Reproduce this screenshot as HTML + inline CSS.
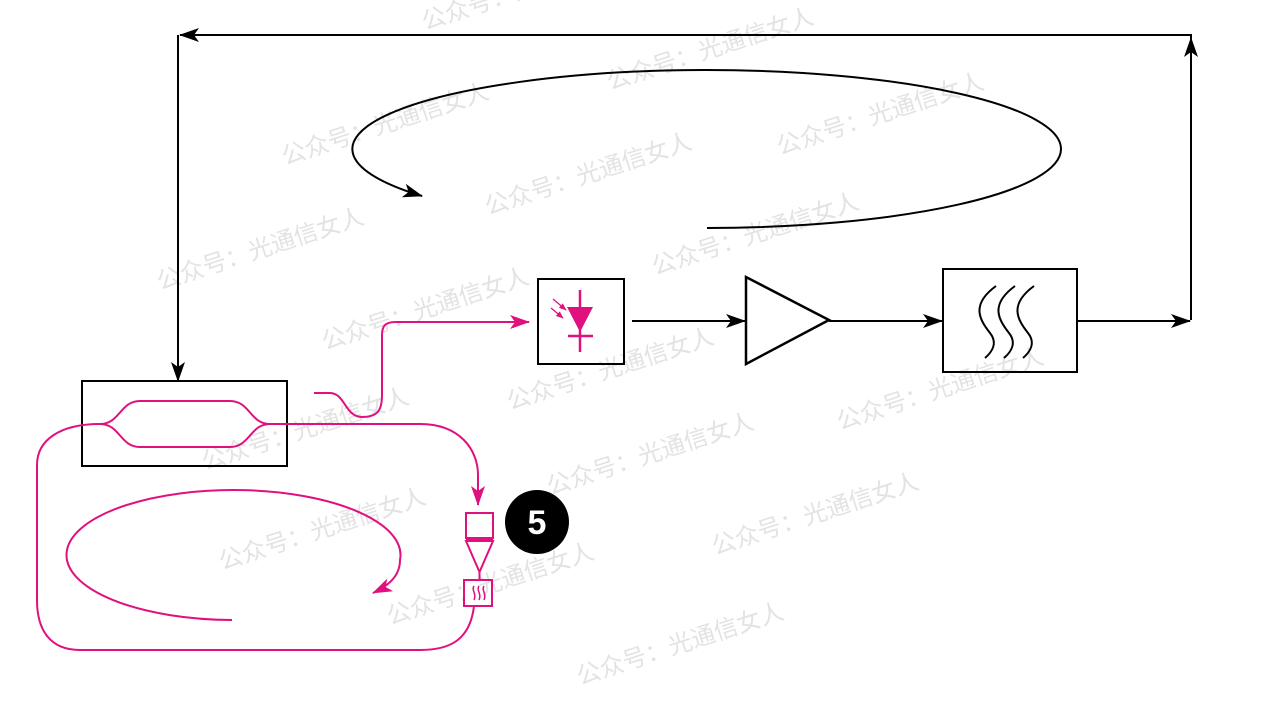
<!DOCTYPE html>
<html><head><meta charset="utf-8"><style>
html,body{margin:0;padding:0;background:#fff;width:1280px;height:720px;overflow:hidden}
.wm{font-family:"Liberation Sans","Noto Sans CJK SC",sans-serif;font-size:24px;fill:#e3e3e3}
</style></head><body>
<svg width="1280" height="720" viewBox="0 0 1280 720" xmlns="http://www.w3.org/2000/svg">
<defs>
<marker id="ab" viewBox="0 0 20 14" refX="19" refY="7" markerWidth="20" markerHeight="14" markerUnits="userSpaceOnUse" orient="auto"><path d="M0,0 L20,7 L0,14 L5,7 z" fill="#000"/></marker>
<marker id="am" viewBox="0 0 20 14" refX="19" refY="7" markerWidth="20" markerHeight="14" markerUnits="userSpaceOnUse" orient="auto"><path d="M0,0 L20,7 L0,14 L5,7 z" fill="#e0107f"/></marker>
<marker id="ams" viewBox="0 0 10 8" refX="9" refY="4" markerWidth="8" markerHeight="6" markerUnits="userSpaceOnUse" orient="auto"><path d="M0,0 L10,4 L0,8 z" fill="#e0107f"/></marker>
</defs>
<g class="wm">
<text x="425" y="30" transform="rotate(-18 425 30)">公众号：光通信女人</text>
<text x="610" y="90" transform="rotate(-18 610 90)">公众号：光通信女人</text>
<text x="285" y="165" transform="rotate(-18 285 165)">公众号：光通信女人</text>
<text x="780" y="155" transform="rotate(-18 780 155)">公众号：光通信女人</text>
<text x="488" y="215" transform="rotate(-18 488 215)">公众号：光通信女人</text>
<text x="160" y="290" transform="rotate(-18 160 290)">公众号：光通信女人</text>
<text x="655" y="275" transform="rotate(-18 655 275)">公众号：光通信女人</text>
<text x="325" y="350" transform="rotate(-18 325 350)">公众号：光通信女人</text>
<text x="840" y="430" transform="rotate(-18 840 430)">公众号：光通信女人</text>
<text x="510" y="410" transform="rotate(-18 510 410)">公众号：光通信女人</text>
<text x="205" y="470" transform="rotate(-18 205 470)">公众号：光通信女人</text>
<text x="550" y="495" transform="rotate(-18 550 495)">公众号：光通信女人</text>
<text x="715" y="555" transform="rotate(-18 715 555)">公众号：光通信女人</text>
<text x="222" y="570" transform="rotate(-18 222 570)">公众号：光通信女人</text>
<text x="390" y="625" transform="rotate(-18 390 625)">公众号：光通信女人</text>
<text x="580" y="685" transform="rotate(-18 580 685)">公众号：光通信女人</text>
</g>
<g fill="none" stroke="#000" stroke-width="2">
<polyline points="1191,320 1191,35 180,35" marker-end="url(#ab)"/>
<line x1="1191" y1="320" x2="1191" y2="38" marker-end="url(#ab)"/>
<line x1="178" y1="35" x2="178" y2="381" marker-end="url(#ab)"/>
<path d="M707,228 A355,79 0 0 0 705,70 A355,79 0 0 0 422,196" marker-end="url(#ab)"/>
<rect x="82" y="381" width="205" height="85"/>
<rect x="538" y="279" width="86" height="85"/>
<line x1="632" y1="321" x2="745" y2="321" marker-end="url(#ab)"/>
<polygon points="746,277 746,364 829,320" stroke-width="2.5"/>
<line x1="829" y1="321" x2="942" y2="321" marker-end="url(#ab)"/>
<rect x="943" y="269" width="134" height="103"/>
<line x1="1077" y1="321" x2="1190" y2="321" marker-end="url(#ab)"/>
<path d="M996,286 C970,305 980,320 990,333 C998,343 992,352 985,358 M1015,286 C989,305 999,320 1009,333 C1017,343 1011,352 1004,358 M1034,286 C1008,305 1018,320 1028,333 C1036,343 1030,352 1023,358" stroke-width="2"/>
</g>
<g fill="none" stroke="#e0107f" stroke-width="2">
<path d="M100,424 C120,424 120,401 140,401 L230,401 C250,401 250,424 270,424"/>
<path d="M100,424 C120,424 120,447 140,447 L230,447 C250,447 250,424 270,424"/>
<path d="M314,393 L330,393 C345,393 345,417 362,417 C378,417 382,410 382,395 L382,335 C382,325 386,322 396,322 L529,322" marker-end="url(#am)"/>
<path d="M270,424 L420,424 C460,424 478,450 478,475 L478,505" marker-end="url(#am)"/>
<rect x="466" y="513" width="27" height="25"/>
<line x1="466" y1="539" x2="493" y2="539" stroke-width="3"/>
<polygon points="466,541 493,541 479.5,572"/>
<line x1="479.5" y1="572" x2="479.5" y2="580"/>
<rect x="464" y="580" width="28" height="26"/>
<path d="M474,586 c-3,4 3,8 0,14 M479,586 c-3,4 3,8 0,14 M484,586 c-3,4 3,8 0,14" stroke-width="1.5"/>
<path d="M474,606 C470,640 450,650 420,650 L80,650 C50,650 37,630 37,600 L37,465 C37,440 60,424 100,424"/>
<path d="M232,620 A167,65 0 1 1 400,560 C400,575 390,585 373,593" marker-end="url(#am)"/>
<line x1="580" y1="290" x2="580" y2="352" stroke-width="2.5"/>
<line x1="568" y1="336" x2="593" y2="336" stroke-width="2.5"/>
<line x1="553" y1="299" x2="566" y2="310" stroke-width="1.3" marker-end="url(#ams)"/>
<line x1="551" y1="308" x2="563" y2="318" stroke-width="1.3" marker-end="url(#ams)"/>
</g>
<polygon points="567,307 593,307 580,332" fill="#e0107f"/>
<circle cx="537" cy="522" r="32" fill="#000"/>
<text x="537" y="534" text-anchor="middle" font-family="Liberation Sans,sans-serif" font-weight="bold" font-size="34" fill="#fff">5</text>
</svg>
</body></html>
